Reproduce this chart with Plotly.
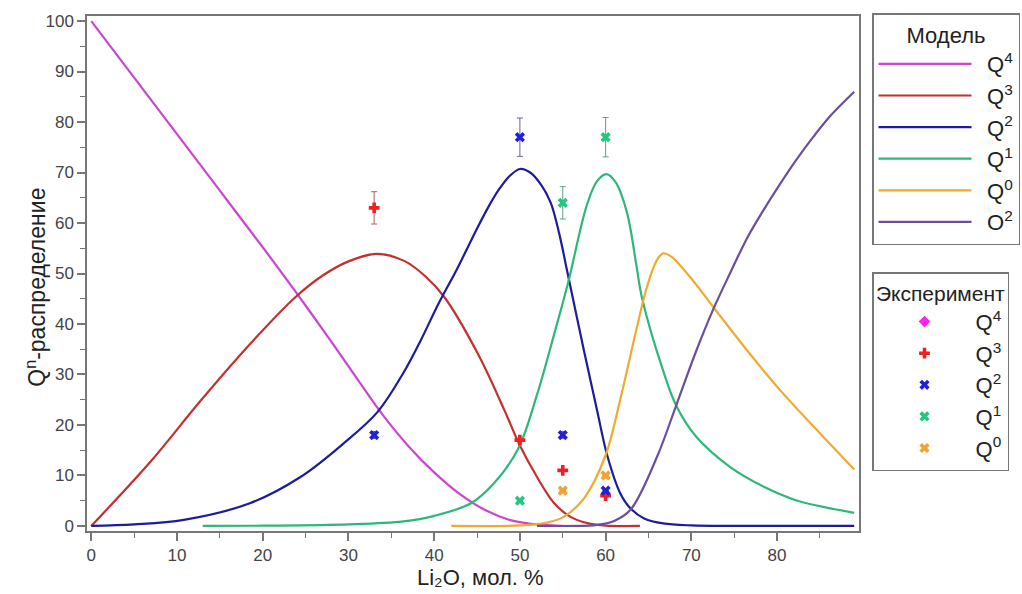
import plotly.graph_objects as go

# ---------------- data ----------------
x_ticks = [0, 10, 20, 30, 40, 50, 60, 70, 80]
y_ticks = [0, 10, 20, 30, 40, 50, 60, 70, 80, 90, 100]
x_minor = [5, 15, 25, 35, 45, 55, 65, 75, 85]
y_minor = [5, 15, 25, 35, 45, 55, 65, 75, 85, 95]

# model curves
q4_x = [0, 5, 10, 15, 20, 24, 28, 31, 34, 37, 40, 43, 46, 49, 52, 55]
q4_y = [100, 88.8, 77.6, 66.4, 55.2, 46.0, 36.5, 29.2, 22.0, 15.8, 10.6, 6.3, 3.1, 1.1, 0.3, 0]

q3_x = [0, 6.9, 12.7, 18.5, 23.8, 27, 30, 33.3, 36.5, 39, 41.2, 45.1, 48.2, 49.9, 52, 54, 55.9, 58, 60, 64]
q3_y = [0, 12.7, 24.7, 36.0, 45.3, 49.6, 52.4, 53.9, 52.5, 49.4, 45.3, 34.1, 22.9, 16.3, 9.7, 4.5, 1.8, 0.5, 0.05, 0]

q2_x = [0, 5, 10.8, 18.5, 24.4, 29.4, 33.4, 36.4, 38.5, 40.5, 42.7, 44.5, 46.2, 47.5, 48.8, 50, 51.2, 52.5, 53.6, 54.6, 55.5, 57.5, 59, 60.2, 61.7, 63, 64.5, 66.7, 70, 75, 89]
q2_y = [0, 0.3, 1.2, 4.5, 9.7, 16.3, 22.6, 30.3, 37.0, 44.0, 51.0, 57.2, 62.8, 66.5, 69.3, 70.7, 70.0, 67.5, 64.0, 57.8, 50.6, 34.5, 22.9, 13.9, 6.5, 3.3, 1.5, 0.5, 0.1, 0, 0]

q1_x = [13, 20, 30, 36.4, 40, 44.3, 47, 49.8, 52, 54, 55.6, 57.8, 59, 60.1, 61.2, 62.5, 63.6, 64.2, 66.7, 68.3, 70.6, 74.5, 78.4, 82.2, 89]
q1_y = [0, 0.05, 0.3, 0.9, 2, 4.5, 8.5, 15.3, 26, 38, 48, 63.5, 68.3, 69.7, 68, 62, 51.5, 45.5, 30.8, 23.6, 17.6, 11.7, 7.8, 5.1, 2.6]

q0_x = [42, 50, 53, 55.1, 57.5, 60, 61.7, 63.6, 64.6, 65.5, 66.1, 66.7, 67.7, 68.7, 70, 72.5, 76.4, 80.3, 84.2, 89]
q0_y = [0, 0.1, 0.6, 1.8, 5.5, 14, 25, 39, 46, 50.8, 53.0, 54, 53.3, 51.6, 49.0, 43.5, 35.0, 27.0, 19.8, 11.2]

o2_x = [52, 58, 59, 61, 62.9, 66, 68.3, 70.6, 72.5, 74.5, 76.5, 78.4, 80.3, 82.2, 84.2, 86.1, 89]
o2_y = [0, 0.05, 0.2, 1, 3.2, 13.7, 24.2, 34.8, 42.7, 50.0, 57.0, 62.5, 67.6, 72.4, 77.0, 81.0, 86]

# experimental points
e_q4_x, e_q4_y, e_q4_err = [None], [None], [0]
e_q3_x = [33, 50, 55, 60]
e_q3_y = [63, 17, 11, 6]
e_q3_err = [3.2, 0, 0, 0]
e_q2_x = [33, 50, 55, 60]
e_q2_y = [18, 77, 18, 7]
e_q2_err = [0.7, 3.8, 0.7, 0]
e_q1_x = [50, 55, 60]
e_q1_y = [5, 64, 77]
e_q1_err = [0, 3.2, 3.9]
e_q0_x = [55, 60]
e_q0_y = [7, 10]
e_q0_err = [0, 0]

x_title = "Li\u2082O, мол. %"
y_title = "Q<sup>n</sup>-распределение"

# ---------------- figure ----------------
FONT = "Liberation Sans, Arial, sans-serif"
NB = "\u00a0\u2009"
fig = go.Figure()

model = [
    ("Q<sup>4</sup>", q4_x, q4_y, "#cc44d4"),
    ("Q<sup>3</sup>", q3_x, q3_y, "#c43030"),
    ("Q<sup>2</sup>", q2_x, q2_y, "#1c1c9c"),
    ("Q<sup>1</sup>", q1_x, q1_y, "#2db87a"),
    ("Q<sup>0</sup>", q0_x, q0_y, "#f0aa30"),
    ("O<sup>2</sup>", o2_x, o2_y, "#6b4f9e"),
]
for name, xs, ys, c in model:
    fig.add_trace(go.Scatter(
        x=xs, y=ys, mode="lines", name=NB + name, legend="legend",
        line=dict(color=c, width=2.2, shape="spline", smoothing=1.0),
        hoverinfo="skip"))

exp = [
    ("Q<sup>4</sup>", e_q4_x, e_q4_y, e_q4_err, "#ff22ff", "diamond", "#c080c0"),
    ("Q<sup>3</sup>", e_q3_x, e_q3_y, e_q3_err, "#ee2020", "cross", "#b06060"),
    ("Q<sup>2</sup>", e_q2_x, e_q2_y, e_q2_err, "#2020dd", "x", "#6464a0"),
    ("Q<sup>1</sup>", e_q1_x, e_q1_y, e_q1_err, "#22c880", "x", "#60a080"),
    ("Q<sup>0</sup>", e_q0_x, e_q0_y, e_q0_err, "#f5a030", "x", "#c09060"),
]
for name, xs, ys, err, c, sym, ec in exp:
    fig.add_trace(go.Scatter(
        x=xs, y=ys, mode="markers", name=name, legend="legend2",
        marker=dict(color=c, symbol=sym, size=9),
        error_y=dict(type="data", array=err, visible=True, color=ec,
                     thickness=1, width=3)))

axis_common = dict(
    ticks="outside", ticklen=8, tickwidth=1.5, tickcolor="#777",
    showline=True, linecolor="#777", linewidth=1.5, mirror=True,
    showgrid=False, zeroline=False,
    tickfont=dict(family=FONT, size=17, color="#444"),
)

fig.update_layout(
    width=1022, height=594,
    margin=dict(l=87, r=160, t=15, b=63),
    paper_bgcolor="white", plot_bgcolor="white",
    font=dict(family=FONT, size=18, color="#222"),
    xaxis=dict(range=[-0.5, 89.5], tickvals=x_ticks,
               minor=dict(tickvals=x_minor, ticks="outside", ticklen=5, tickwidth=1.2, tickcolor="#777"),
               **axis_common),
    yaxis=dict(range=[-1, 101], tickvals=y_ticks,
               minor=dict(tickvals=y_minor, ticks="outside", ticklen=5, tickwidth=1.2, tickcolor="#777"),
               **axis_common),
    annotations=[
        dict(text=x_title, xref="paper", yref="paper", x=0.5097, y=-0.0911,
             xanchor="center", yanchor="middle", showarrow=False,
             font=dict(family=FONT, size=22, color="#222")),
        dict(text=y_title, xref="paper", yref="paper", x=-0.0658, y=0.4729,
             xanchor="center", yanchor="middle", showarrow=False, textangle=-90,
             font=dict(family=FONT, size=23, color="#222")),
    ],
    legend=dict(xref="container", yref="container",
                x=872 / 1022, y=1 - 13 / 594, xanchor="left", yanchor="top",
                bordercolor="#777", borderwidth=1.5, bgcolor="white",
                font=dict(family=FONT, size=22, color="#222"),
                itemwidth=93, tracegroupgap=0,
                title=dict(text="Модель", side="top center",
                           font=dict(family=FONT, size=22, color="#222"))),
    legend2=dict(xref="container", yref="container",
                 x=872 / 1022, y=1 - 272 / 594, xanchor="left", yanchor="top",
                 bordercolor="#777", borderwidth=1.5, bgcolor="white",
                 font=dict(family=FONT, size=22, color="#222"),
                 itemwidth=92, tracegroupgap=0,
                 title=dict(text="Эксперимент", side="top center",
                            font=dict(family=FONT, size=21, color="#222"))),
    showlegend=True,
)

fig.write_html("out.html")
